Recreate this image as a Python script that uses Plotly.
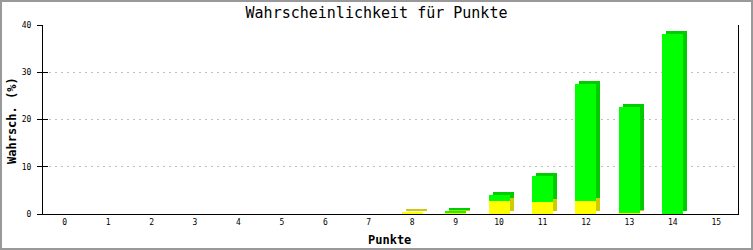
import plotly.graph_objects as go

# ---- data ----
points = list(range(16))
yellow_vals = [0, 0, 0, 0, 0, 0, 0, 0, 0.4, 0.4, 2.8, 2.6, 2.8, 0.2, 0, 0]
green_vals = [0, 0, 0, 0, 0, 0, 0, 0, 0, 0.2, 1.3, 5.4, 24.7, 22.5, 38.1, 0]
tick_labels = [str(p) for p in points]
title_text = "Wahrscheinlichkeit für Punkte"
ytitle_text = "Wahrsch. (%)"
xtitle_text = "Punkte"

# ---- layout constants ----
W, H = 753, 250
ML, MR, MT, MB = 43, 15, 25, 36
PW, PH = W - ML - MR, H - MT - MB
XR = [-0.5, 15.5]
YR = [0, 40]
px_x = PW / (XR[1] - XR[0])
px_y = PH / (YR[1] - YR[0])
BAR_W = 21 / px_x
DX = 4 / px_x
DY = 3 / px_y
FONT = "DejaVu Sans Mono"

Y_FRONT, Y_DARK = "#ffff00", "#cccc00"
G_FRONT, G_DARK = "#00ff00", "#00cc00"

yb = [0] * len(points)
gb = list(yellow_vals)

fig = go.Figure()
# 3D depth (shadow) parts
fig.add_trace(go.Bar(x=[p + DX for p in points], y=yellow_vals, base=[b + DY for b in yb],
                     width=BAR_W, marker=dict(color=Y_DARK, line=dict(width=0)),
                     showlegend=False, hoverinfo="skip"))
fig.add_trace(go.Bar(x=[p + DX for p in points], y=green_vals, base=[b + DY for b in gb],
                     width=BAR_W, marker=dict(color=G_DARK, line=dict(width=0)),
                     showlegend=False, hoverinfo="skip"))
# front faces
fig.add_trace(go.Bar(x=points, y=yellow_vals, base=yb, width=BAR_W,
                     marker=dict(color=Y_FRONT, line=dict(width=0)), showlegend=False))
fig.add_trace(go.Bar(x=points, y=green_vals, base=gb, width=BAR_W,
                     marker=dict(color=G_FRONT, line=dict(width=0)), showlegend=False))
# dummy trace for inner tick axis
fig.add_trace(go.Scatter(x=[None], y=[None], yaxis="y2", showlegend=False))

def px2paper_x(px):
    return (px - ML) / PW

def px2paper_y(py):
    return (H - MB - py) / PH

fig.update_layout(
    width=W, height=H,
    margin=dict(l=ML, r=MR, t=MT, b=MB),
    paper_bgcolor="white", plot_bgcolor="white",
    barmode="overlay", bargap=0,
    title=dict(text=title_text, x=0.5, xref="container", xanchor="center",
               y=1 - 13 / H, yref="container", yanchor="middle",
               font=dict(family=FONT, size=15, color="black")),
    xaxis=dict(range=XR, tickmode="array", tickvals=points, ticktext=tick_labels,
               showline=True, linecolor="black", linewidth=1, ticks="",
               showgrid=False, zeroline=False,
               tickfont=dict(family=FONT, size=8, color="black")),
    yaxis=dict(range=YR, dtick=10, showline=True, mirror=True, linecolor="black",
               linewidth=1, ticks="outside", ticklen=5, tickcolor="black",
               showgrid=True, gridcolor="#c0c0c0", griddash="2px,4px", gridwidth=1,
               zeroline=False, ticklabelstandoff=4,
               tickfont=dict(family=FONT, size=8, color="black")),
    yaxis2=dict(range=YR, dtick=10, overlaying="y", side="left", ticks="inside",
                ticklen=5, tickcolor="black", showticklabels=False, showgrid=False,
                zeroline=False, showline=False),
    annotations=[
        dict(text="<b>" + ytitle_text + "</b>", xref="paper", yref="paper",
             x=px2paper_x(12), y=px2paper_y(121), textangle=-90, showarrow=False,
             xanchor="center", yanchor="middle",
             font=dict(family=FONT, size=12, color="black")),
        dict(text="<b>" + xtitle_text + "</b>", xref="paper", yref="paper",
             x=px2paper_x(389), y=px2paper_y(240), showarrow=False,
             xanchor="center", yanchor="middle",
             font=dict(family=FONT, size=12, color="black")),
    ],
    shapes=[dict(type="rect", xref="paper", yref="paper",
                 x0=px2paper_x(1), x1=px2paper_x(W - 1),
                 y0=px2paper_y(H - 1), y1=px2paper_y(1),
                 line=dict(color="#999999", width=2), layer="above")],
)

fig.write_html("out.html")
